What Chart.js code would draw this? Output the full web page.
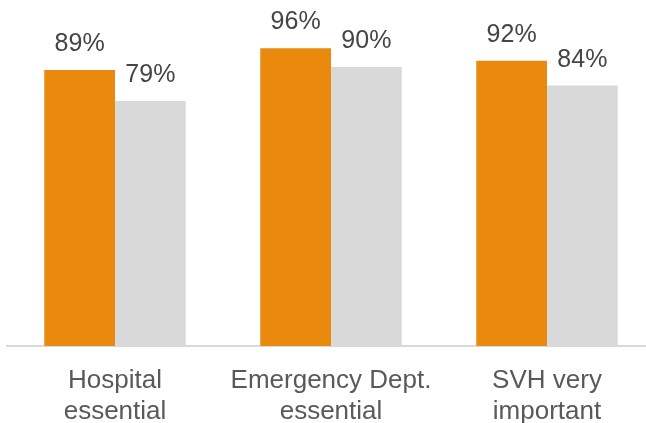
<!DOCTYPE html>
<html>
<head>
<meta charset="utf-8">
<script src="https://cdn.jsdelivr.net/npm/chart.js@4/dist/chart.umd.min.js"></script>
<style>
  html, body { margin: 0; padding: 0; background: #fff; overflow: hidden; }
  #wrap { width: 655px; height: 423px; }
</style>
</head>
<body>
<div id="wrap"><canvas id="c" width="655" height="423"></canvas></div>
<script>
// Survey results, percent agreeing
const categories = [["Hospital", "essential"], ["Emergency Dept.", "essential"], ["SVH very", "important"]];
const seriesA = [89, 96, 92];
const seriesB = [79, 90, 84];
const seriesNames = ["Group A", "Group B"];

const valueLabels = {
  id: 'valueLabels',
  afterDatasetsDraw(chart) {
    const ctx = chart.ctx;
    ctx.save();
    ctx.font = '25px "Liberation Sans", Arial, sans-serif';
    ctx.fillStyle = '#454545';
    ctx.textAlign = 'center';
    ctx.textBaseline = 'alphabetic';
    chart.data.datasets.forEach((ds, i) => {
      chart.getDatasetMeta(i).data.forEach((bar, j) => {
        ctx.fillText(ds.data[j] + '%', bar.x, bar.y - 19);
      });
    });
    ctx.restore();
  }
};

new Chart(document.getElementById('c'), {
  type: 'bar',
  data: {
    labels: categories,
    datasets: [
      { label: seriesNames[0], data: seriesA, backgroundColor: '#E98A0F' },
      { label: seriesNames[1], data: seriesB, backgroundColor: '#D9D9D9' }
    ]
  },
  options: {
    responsive: false,
    animation: false,
    devicePixelRatio: 1,
    layout: { padding: { left: 7, right: 0, top: 0, bottom: 0 } },
    datasets: { bar: { barPercentage: 1.0, categoryPercentage: 0.655 } },
    plugins: { legend: { display: false }, tooltip: { enabled: false } },
    scales: {
      x: {
        grid: { display: false },
        border: { display: true, color: '#D9D9D9', width: 2 },
        ticks: {
          color: '#595959',
          font: { family: '"Liberation Sans", Arial, sans-serif', size: 26, lineHeight: 1.2 },
          padding: 11,
          maxRotation: 0,
          autoSkip: false
        },
        afterFit(scale) { scale.height = 77; }
      },
      y: {
        display: false,
        min: 0,
        max: 111.6
      }
    }
  },
  plugins: [valueLabels]
});
</script>
</body>
</html>
